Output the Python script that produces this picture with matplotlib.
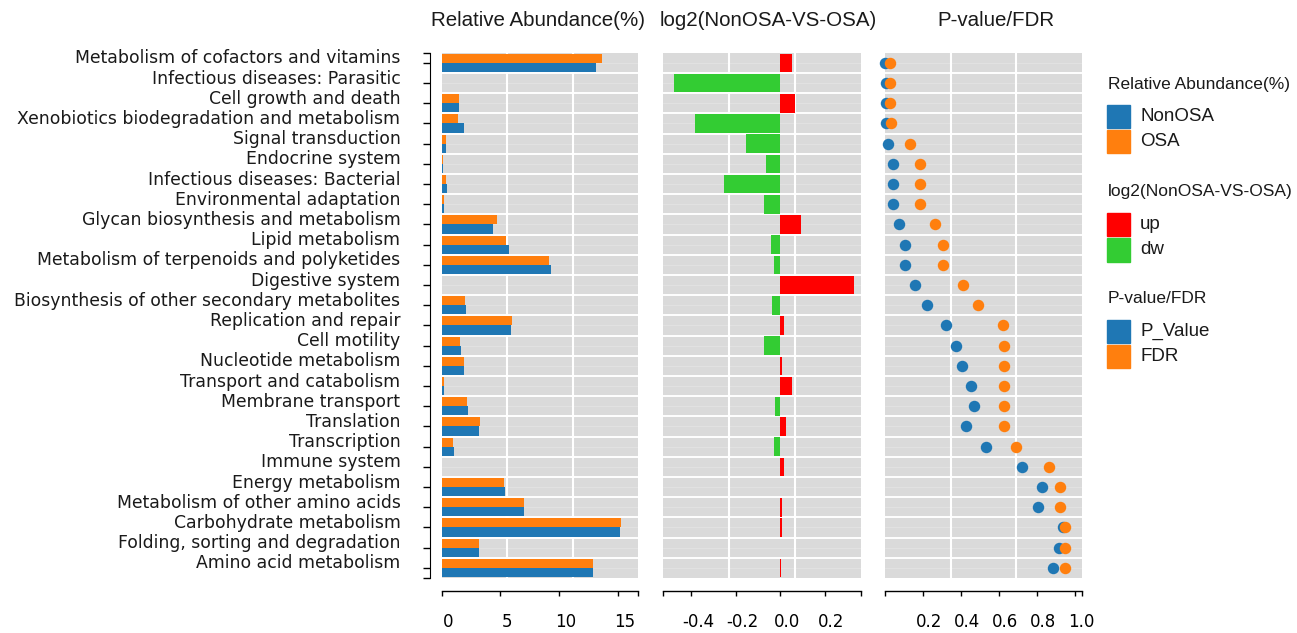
import matplotlib
matplotlib.use("Agg")
import matplotlib.pyplot as plt
from matplotlib.patches import Rectangle
from matplotlib.transforms import ScaledTranslation

# pathways, top to bottom
pathways = ["Metabolism of cofactors and vitamins", "Infectious diseases: Parasitic",
            "Cell growth and death", "Xenobiotics biodegradation and metabolism",
            "Signal transduction", "Endocrine system", "Infectious diseases: Bacterial",
            "Environmental adaptation", "Glycan biosynthesis and metabolism",
            "Lipid metabolism", "Metabolism of terpenoids and polyketides",
            "Digestive system", "Biosynthesis of other secondary metabolites",
            "Replication and repair", "Cell motility", "Nucleotide metabolism",
            "Transport and catabolism", "Membrane transport", "Translation",
            "Transcription", "Immune system", "Energy metabolism",
            "Metabolism of other amino acids", "Carbohydrate metabolism",
            "Folding, sorting and degradation", "Amino acid metabolism"]

nonosa = [13.1, 0.02, 1.45, 1.9, 0.4, 0.12, 0.45, 0.25, 4.4, 5.7, 9.3, 0.05, 2.1,
          5.9, 1.65, 1.95, 0.2, 2.25, 3.2, 1.05, 0.05, 5.4, 7.0, 15.15, 3.2, 12.85]
osa = [13.6, 0.02, 1.5, 1.4, 0.35, 0.1, 0.35, 0.2, 4.7, 5.5, 9.1, 0.03, 2.0,
       6.0, 1.6, 1.95, 0.2, 2.2, 3.3, 1.0, 0.05, 5.35, 7.0, 15.25, 3.2, 12.9]

log2fc = [0.05, -0.48, 0.066, -0.383, -0.156, -0.067, -0.254, -0.072, 0.092, -0.042,
          -0.031, 0.331, -0.038, 0.016, -0.072, 0.008, 0.052, -0.025, 0.025, -0.031,
          0.015, -0.002, 0.007, 0.007, -0.002, 0.002]

pvalue = [0.001, 0.003, 0.003, 0.005, 0.018, 0.042, 0.04, 0.04, 0.074, 0.103, 0.105,
          0.158, 0.223, 0.319, 0.375, 0.403, 0.452, 0.466, 0.426, 0.532, 0.719, 0.829,
          0.803, 0.935, 0.917, 0.882]
fdr = [0.025, 0.027, 0.027, 0.03, 0.133, 0.184, 0.184, 0.184, 0.263, 0.307, 0.307,
       0.412, 0.487, 0.619, 0.626, 0.626, 0.626, 0.626, 0.626, 0.689, 0.861, 0.919,
       0.919, 0.946, 0.946, 0.946]

blue, orange = "#1f77b4", "#ff7f0e"
red, green = "#ff0000", "#33cc33"
bg = "#dadada"

W, H = 1297, 633
fig = plt.figure(figsize=(W / 100, H / 100), dpi=100)

top_px, bot_px = 52.7, 578
n = len(pathways)
rows = list(range(n))


def panel(x0, x1):
    ax = fig.add_axes([x0 / W, (H - bot_px) / H, (x1 - x0) / W, (bot_px - top_px) / H])
    ax.set_facecolor(bg)
    ax.set_ylim(n - 0.5, -0.5)
    for s in ["top", "right", "left"]:
        ax.spines[s].set_visible(False)
    ax.spines["bottom"].set_position(("outward", 9.4))
    ax.spines["bottom"].set_linewidth(1.0)
    ax.tick_params(axis="x", direction="out", length=3.6, width=1.0, pad=12.5, labelsize=12)
    ax.tick_params(axis="x", which="minor", length=3.6, width=1.0)
    ax.tick_params(axis="y", left=False, labelleft=False)
    # row bands
    for i in rows:
        ax.axhline(i, color="#e3e3e3", lw=0.6, zorder=1)
    for i in range(n - 1):
        ax.axhline(i + 0.5, color="white", lw=1.4, zorder=2)
    for f in (1 / 3, 2 / 3):
        ax.plot([f, f], [0, 1], transform=ax.transAxes, color="white", lw=1.5, zorder=1.5)
    return ax


def shift_xlabels(ax):
    off = ScaledTranslation(0.065, 0, fig.dpi_scale_trans)
    for lab in ax.get_xticklabels():
        lab.set_transform(lab.get_transform() + off)


# ---- panel 1: relative abundance
ax1 = panel(441.5, 638)
ax1.set_xlim(0, 16.7)
ax1.barh([r - 0.225 for r in rows], osa, height=0.45, color=orange, zorder=3)
ax1.barh([r + 0.225 for r in rows], nonosa, height=0.45, color=blue, zorder=3)
ax1.set_xticks([0, 5, 10, 15])
ax1.set_xticks([16.7], minor=True)
ax1.spines["left"].set_visible(True)
ax1.spines["left"].set_position(("outward", 8.1))
ax1.tick_params(axis="y", left=True, labelleft=True, direction="out", length=5,
                width=1.0, pad=16.5, labelsize=12.4, labelcolor="#1a1a1a")
ax1.tick_params(axis="y", which="minor", left=True, direction="out", length=5, width=1.0)
ax1.set_yticks(rows)
ax1.set_yticklabels(pathways)
ax1.set_yticks([-0.5, n - 0.5], minor=True)
yoff = ScaledTranslation(0, 0.065, fig.dpi_scale_trans)
for lab in ax1.get_yticklabels():
    lab.set_transform(lab.get_transform() + yoff)
shift_xlabels(ax1)

# ---- panel 2: log2 fold change
ax2 = panel(663, 861)
ax2.set_xlim(-0.528, 0.362)
ax2.barh(rows, log2fc, height=0.92,
         color=[red if v > 0 else green for v in log2fc], zorder=3)
ax2.set_xticks([-0.4, -0.2, 0.0, 0.2])
ax2.set_xticklabels(["-0.4", "-0.2", "0.0", "0.2"])
ax2.set_xticks([-0.528, 0.362], minor=True)
shift_xlabels(ax2)

# ---- panel 3: p-value / FDR
ax3 = panel(885, 1082)
ax3.set_xlim(0, 1.037)
ax3.scatter(pvalue, rows, s=68, color=blue, zorder=4, clip_on=False, linewidths=0)
ax3.scatter(fdr, rows, s=68, color=orange, zorder=5, clip_on=False, linewidths=0)
ax3.set_xticks([0, 0.2, 0.4, 0.6, 0.8, 1.0])
ax3.set_xticklabels(["", "0.2", "0.4", "0.6", "0.8", "1.0"])
ax3.set_xticks([1.037], minor=True)
shift_xlabels(ax3)

# panel titles
tfont = dict(family=["Liberation Sans", "DejaVu Sans"], fontsize=14.8, color="#1a1a1a",
             ha="center", va="center")
fig.text(538 / W, 1 - 21 / H, "Relative Abundance(%)", **tfont)
fig.text(768 / W, 1 - 21 / H, "log2(NonOSA-VS-OSA)", **tfont)
fig.text(996 / W, 1 - 21 / H, "P-value/FDR", **tfont)

# legend
lfam = ["Liberation Sans", "DejaVu Sans"]
groups = [
    ("Relative Abundance(%)", 85, [("NonOSA", blue, 105), ("OSA", orange, 130)]),
    ("log2(NonOSA-VS-OSA)", 191.7, [("up", red, 212.7), ("dw", green, 238.3)]),
    ("P-value/FDR", 298.3, [("P_Value", blue, 320), ("FDR", orange, 345)]),
]
for title, ty, items in groups:
    fig.text(1107.7 / W, 1 - ty / H, title, family=lfam, fontsize=12.5,
             color="#1a1a1a", ha="left", va="center")
    for lab, col, y0 in items:
        fig.add_artist(Rectangle((1107 / W, 1 - (y0 + 23.3) / H), 23 / W, 23.3 / H,
                                 transform=fig.transFigure, color=col))
        fig.text(1140 / W, 1 - (y0 + 11.7) / H, lab, family=lfam, fontsize=13.5,
                 color="#1a1a1a", ha="left", va="center")

fig.savefig("out.png", dpi=100)
